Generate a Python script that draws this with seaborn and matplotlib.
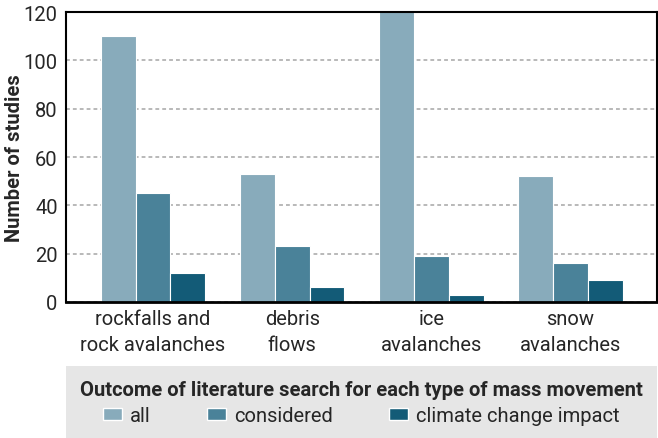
import pandas as pd
import matplotlib.pyplot as plt
import seaborn as sns
from matplotlib.patches import Rectangle

# values
categories = ["rockfalls and\nrock avalanches", "debris\nflows", "ice\navalanches", "snow\navalanches"]
all_studies = [110, 53, 126, 52]
considered = [45, 23, 19, 16]
climate_impact = [12, 6, 3, 9]
series = ["all", "considered", "climate change impact"]
colors = ["#88abbb", "#4a8299", "#135b77"]

df = pd.DataFrame({
    "type": categories * 3,
    "outcome": [series[0]] * 4 + [series[1]] * 4 + [series[2]] * 4,
    "count": all_studies + considered + climate_impact,
})

sns.set_style("white")
plt.rcParams['font.family'] = ['Roboto', 'DejaVu Sans']

fig = plt.figure(figsize=(6.58, 4.39), dpi=100)
ax = fig.add_axes([0.1003, 0.3098, 0.898, 0.6605])

sns.barplot(data=df, x="type", y="count", hue="outcome", palette=colors,
            width=0.75, saturation=1, edgecolor="white", linewidth=0.8,
            legend=False, ax=ax)

ax.set_ylim(0, 120)
ax.set_xlim(-0.625, 3.62)
ax.set_yticks(range(0, 121, 20))
ax.set_xlabel("")
ax.set_ylabel("Number of studies", fontsize=14.5, fontweight="semibold")
ax.yaxis.set_label_coords(-0.071, 0.5)
ax.yaxis.grid(True, linestyle=(0, (2.5, 2)), color="#a6a6a6", linewidth=1.1)
ax.set_axisbelow(True)
for s in ax.spines.values():
    s.set_visible(True)
    s.set_color("black")
    s.set_linewidth(1.5)
ax.spines["bottom"].set_linewidth(2)
ax.tick_params(axis="y", labelsize=14.5, length=4, width=1, color="#a6a6a6", pad=2)
ax.tick_params(axis="x", labelsize=14.5, length=0, pad=5)
for lab in ax.get_xticklabels():
    lab.set_linespacing(1.5)

# grey legend panel
fig.patches.append(Rectangle((0.1003, 0.0), 0.898, 0.164, transform=fig.transFigure,
                             facecolor="#e6e6e6", edgecolor="none", zorder=0))
handles = [Rectangle((0, 0), 1, 1, facecolor=c) for c in colors]
leg = fig.legend(handles, series, loc="center", bbox_to_anchor=(0.549, 0.08), ncol=3,
                 frameon=False, fontsize=14.5, title="Outcome of literature search for each type of mass movement",
                 title_fontproperties={"weight": "bold", "size": 14.5},
                 handlelength=0.95, handleheight=0.5, handletextpad=0.4, columnspacing=2.8,
                 borderpad=0.1, labelspacing=0.2)
leg._legend_box.sep = 5

fig.savefig("out.png", dpi=100)
